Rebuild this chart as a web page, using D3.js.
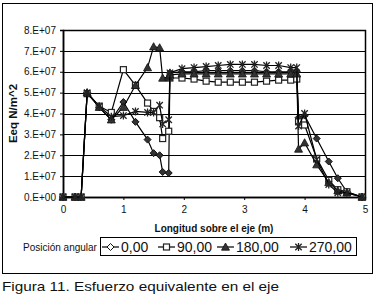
<!DOCTYPE html>
<html>
<head>
<meta charset="utf-8">
<script src="https://cdn.jsdelivr.net/npm/d3@7"></script>
<style>
  body { margin: 0; background: #fff; }
  svg { display: block; }
  text { font-family: "Liberation Sans", Arial, sans-serif; fill: #111; }
</style>
</head>
<body>
<svg width="377" height="295"></svg>
<script>
// Positions along the shaft (m)
var xs = [0, 0.2, 0.3, 0.4, 0.6, 0.8, 1.0, 1.2, 1.4, 1.5, 1.6, 1.65, 1.75, 1.77,
          1.97, 2.17, 2.37, 2.57, 2.77, 2.97, 3.17, 3.37, 3.57, 3.77, 3.87,
          3.9, 4.0, 4.2, 4.4, 4.55, 4.7, 4.95];

// Equivalent stress, in units of 1e7 N/m^2, one array per angular position
var pos000 = [0, 0, 0, 5.0, 4.3, 3.7, 4.55, 3.6, 2.75, 2.1, 2.0, 1.2, 1.15, 5.95,
              6.0, 6.0, 6.05, 6.05, 6.05, 6.05, 6.05, 6.0, 6.0, 6.0, 6.0,
              3.8, 3.9, 2.8, 1.7, 0.9, 0.25, 0];
var pos090 = [0, 0, 0, 4.95, 4.35, 4.05, 6.1, 5.35, 4.5, 4.1, 3.8, 2.8, 3.15, 5.7,
              5.7, 5.65, 5.55, 5.5, 5.5, 5.5, 5.5, 5.55, 5.6, 5.6, 5.65,
              3.6, 3.45, 1.85, 0.8, 0.35, 0.25, 0];
var pos180 = [0, 0, 0, 5.0, 4.3, 3.7, 4.3, 5.35, 6.2, 7.2, 7.15, 5.7, 5.75, 5.85,
              5.9, 5.9, 5.9, 5.9, 5.9, 5.9, 5.9, 5.9, 5.9, 5.9, 5.9,
              2.3, 2.6, 1.55, 0.7, 0.3, 0.2, 0];
var pos270 = [0, 0, 0, 5.0, 4.35, 3.85, 3.9, 4.1, 4.05, 4.05, 4.4, 3.5, 3.7, 5.95,
              6.15, 6.2, 6.25, 6.3, 6.35, 6.35, 6.35, 6.3, 6.3, 6.2, 6.2,
              3.4, 4.0, 1.8, 0.6, 0.2, 0.2, 0];

var seriesNames = ["0,00", "90,00", "180,00", "270,00"];
var xTicks = [0, 1, 2, 3, 4, 5];
var yTicks = [0, 1, 2, 3, 4, 5, 6, 7, 8];
var yTickLabels = ["0.E+00", "1.E+07", "2.E+07", "3.E+07", "4.E+07",
                   "5.E+07", "6.E+07", "7.E+07", "8.E+07"];

var svg = d3.select("svg");

// outer chart frame
svg.append("rect")
    .attr("x", 2.5).attr("y", 3.5)
    .attr("width", 370).attr("height", 270)
    .attr("fill", "none").attr("stroke", "#000").attr("stroke-width", 1);

var margin = { left: 63, top: 30, right: 12, bottom: 98 };
var width = 377 - margin.left - margin.right;   // 302
var height = 295 - margin.top - margin.bottom;  // 167

var x = d3.scaleLinear().domain([0, 5]).range([0, width]);
var y = d3.scaleLinear().domain([0, 8]).range([height, 0]);

var g = svg.append("g")
    .attr("transform", "translate(" + margin.left + "," + margin.top + ")");

// gridlines
g.selectAll(".grid")
    .data(yTicks)
  .enter().append("line")
    .attr("x1", 0).attr("x2", width)
    .attr("y1", function(d) { return Math.round(y(d)) + 0.5; })
    .attr("y2", function(d) { return Math.round(y(d)) + 0.5; })
    .attr("stroke", "#000").attr("stroke-width", 1);

// plot area border
g.append("rect")
    .attr("x", 0.5).attr("y", 0.5)
    .attr("width", width).attr("height", height)
    .attr("fill", "none").attr("stroke", "#000").attr("stroke-width", 1.5);

// X axis
var xAxis = g.append("g")
    .attr("transform", "translate(0," + height + ")")
    .call(d3.axisBottom(x).tickValues(xTicks).tickSize(3).tickPadding(6).tickFormat(d3.format("d")));
// Y axis
var yAxis = g.append("g")
    .call(d3.axisLeft(y).tickValues(yTicks).tickSize(3).tickPadding(4)
        .tickFormat(function(d, i) { return yTickLabels[i]; }));

[xAxis, yAxis].forEach(function(a) {
    a.select(".domain").attr("stroke", "#000").attr("stroke-width", 1.5);
    a.selectAll(".tick line").attr("stroke", "#000");
    a.selectAll(".tick text")
        .attr("font-family", "Liberation Sans, Arial, sans-serif")
        .attr("font-size", 10).attr("fill", "#222");
});

// axis titles
g.append("text")
    .attr("x", width / 2).attr("y", height + 35)
    .attr("text-anchor", "middle")
    .attr("font-size", 10).attr("font-weight", "bold")
    .text("Longitud sobre el eje (m)");

g.append("text")
    .attr("transform", "rotate(-90)")
    .attr("x", -height / 2).attr("y", -46)
    .attr("text-anchor", "middle")
    .attr("font-size", 11.5).attr("font-weight", "bold")
    .text("Eeq N/m^2");

// marker shapes
function marker(sel, kind, legend) {
    if (kind === 0) {
        sel.append("path").attr("d", "M0,-3.5L3.5,0L0,3.5L-3.5,0Z")
            .attr("fill", legend ? "#fff" : "#333").attr("stroke", "#111").attr("stroke-width", 1);
    } else if (kind === 1) {
        sel.append("rect").attr("x", -3).attr("y", -3).attr("width", 6).attr("height", 6)
            .attr("fill", "#fff").attr("stroke", "#222").attr("stroke-width", 1.2);
    } else if (kind === 2) {
        sel.append("path").attr("d", "M0,-4L4,3.2L-4,3.2Z")
            .attr("fill", "#333").attr("stroke", "#111").attr("stroke-width", 0.8);
    } else {
        sel.append("path").attr("d", "M-3.2,-3.2L3.2,3.2M-3.2,3.2L3.2,-3.2M0,-4L0,4")
            .attr("fill", "none").attr("stroke", "#222").attr("stroke-width", 1.3);
    }
}

var allSeries = [pos000, pos090, pos180, pos270];
var line = d3.line()
    .x(function(d) { return x(d[0]); })
    .y(function(d) { return y(d[1]); });

allSeries.forEach(function(vals, k) {
    var pts = xs.map(function(xv, i) { return [xv, vals[i]]; });
    g.append("path")
        .datum(pts)
        .attr("d", line)
        .attr("fill", "none").attr("stroke", "#000").attr("stroke-width", 1.2);
    g.selectAll(".m" + k)
        .data(pts)
      .enter().append("g")
        .attr("class", "m" + k)
        .attr("transform", function(d) { return "translate(" + x(d[0]) + "," + y(d[1]) + ")"; })
        .each(function() { marker(d3.select(this), k, false); });
});

// legend
svg.append("text")
    .attr("x", 23).attr("y", 251)
    .attr("font-size", 10)
    .text("Posición angular");

svg.append("rect")
    .attr("x", 100.5).attr("y", 237.5)
    .attr("width", 256).attr("height", 18)
    .attr("fill", "#fff").attr("stroke", "#000").attr("stroke-width", 1);

var legendX = [102, 158, 217, 290];
seriesNames.forEach(function(name, k) {
    var lg = svg.append("g").attr("transform", "translate(" + legendX[k] + ",247)");
    lg.append("line").attr("x1", 0).attr("x2", 17).attr("y1", 0).attr("y2", 0)
        .attr("stroke", "#000").attr("stroke-width", 1.2);
    marker(lg.append("g").attr("transform", "translate(8.5,0)"), k, true);
    lg.append("text")
        .attr("x", 19).attr("y", 5)
        .attr("font-size", 14)
        .text(name);
});

// caption
svg.append("text")
    .attr("x", 2).attr("y", 291)
    .attr("font-family", "DejaVu Sans, sans-serif")
    .attr("font-size", 13)
    .attr("textLength", 277)
    .attr("lengthAdjust", "spacingAndGlyphs")
    .text("Figura 11. Esfuerzo equivalente en el eje");
</script>
</body>
</html>
